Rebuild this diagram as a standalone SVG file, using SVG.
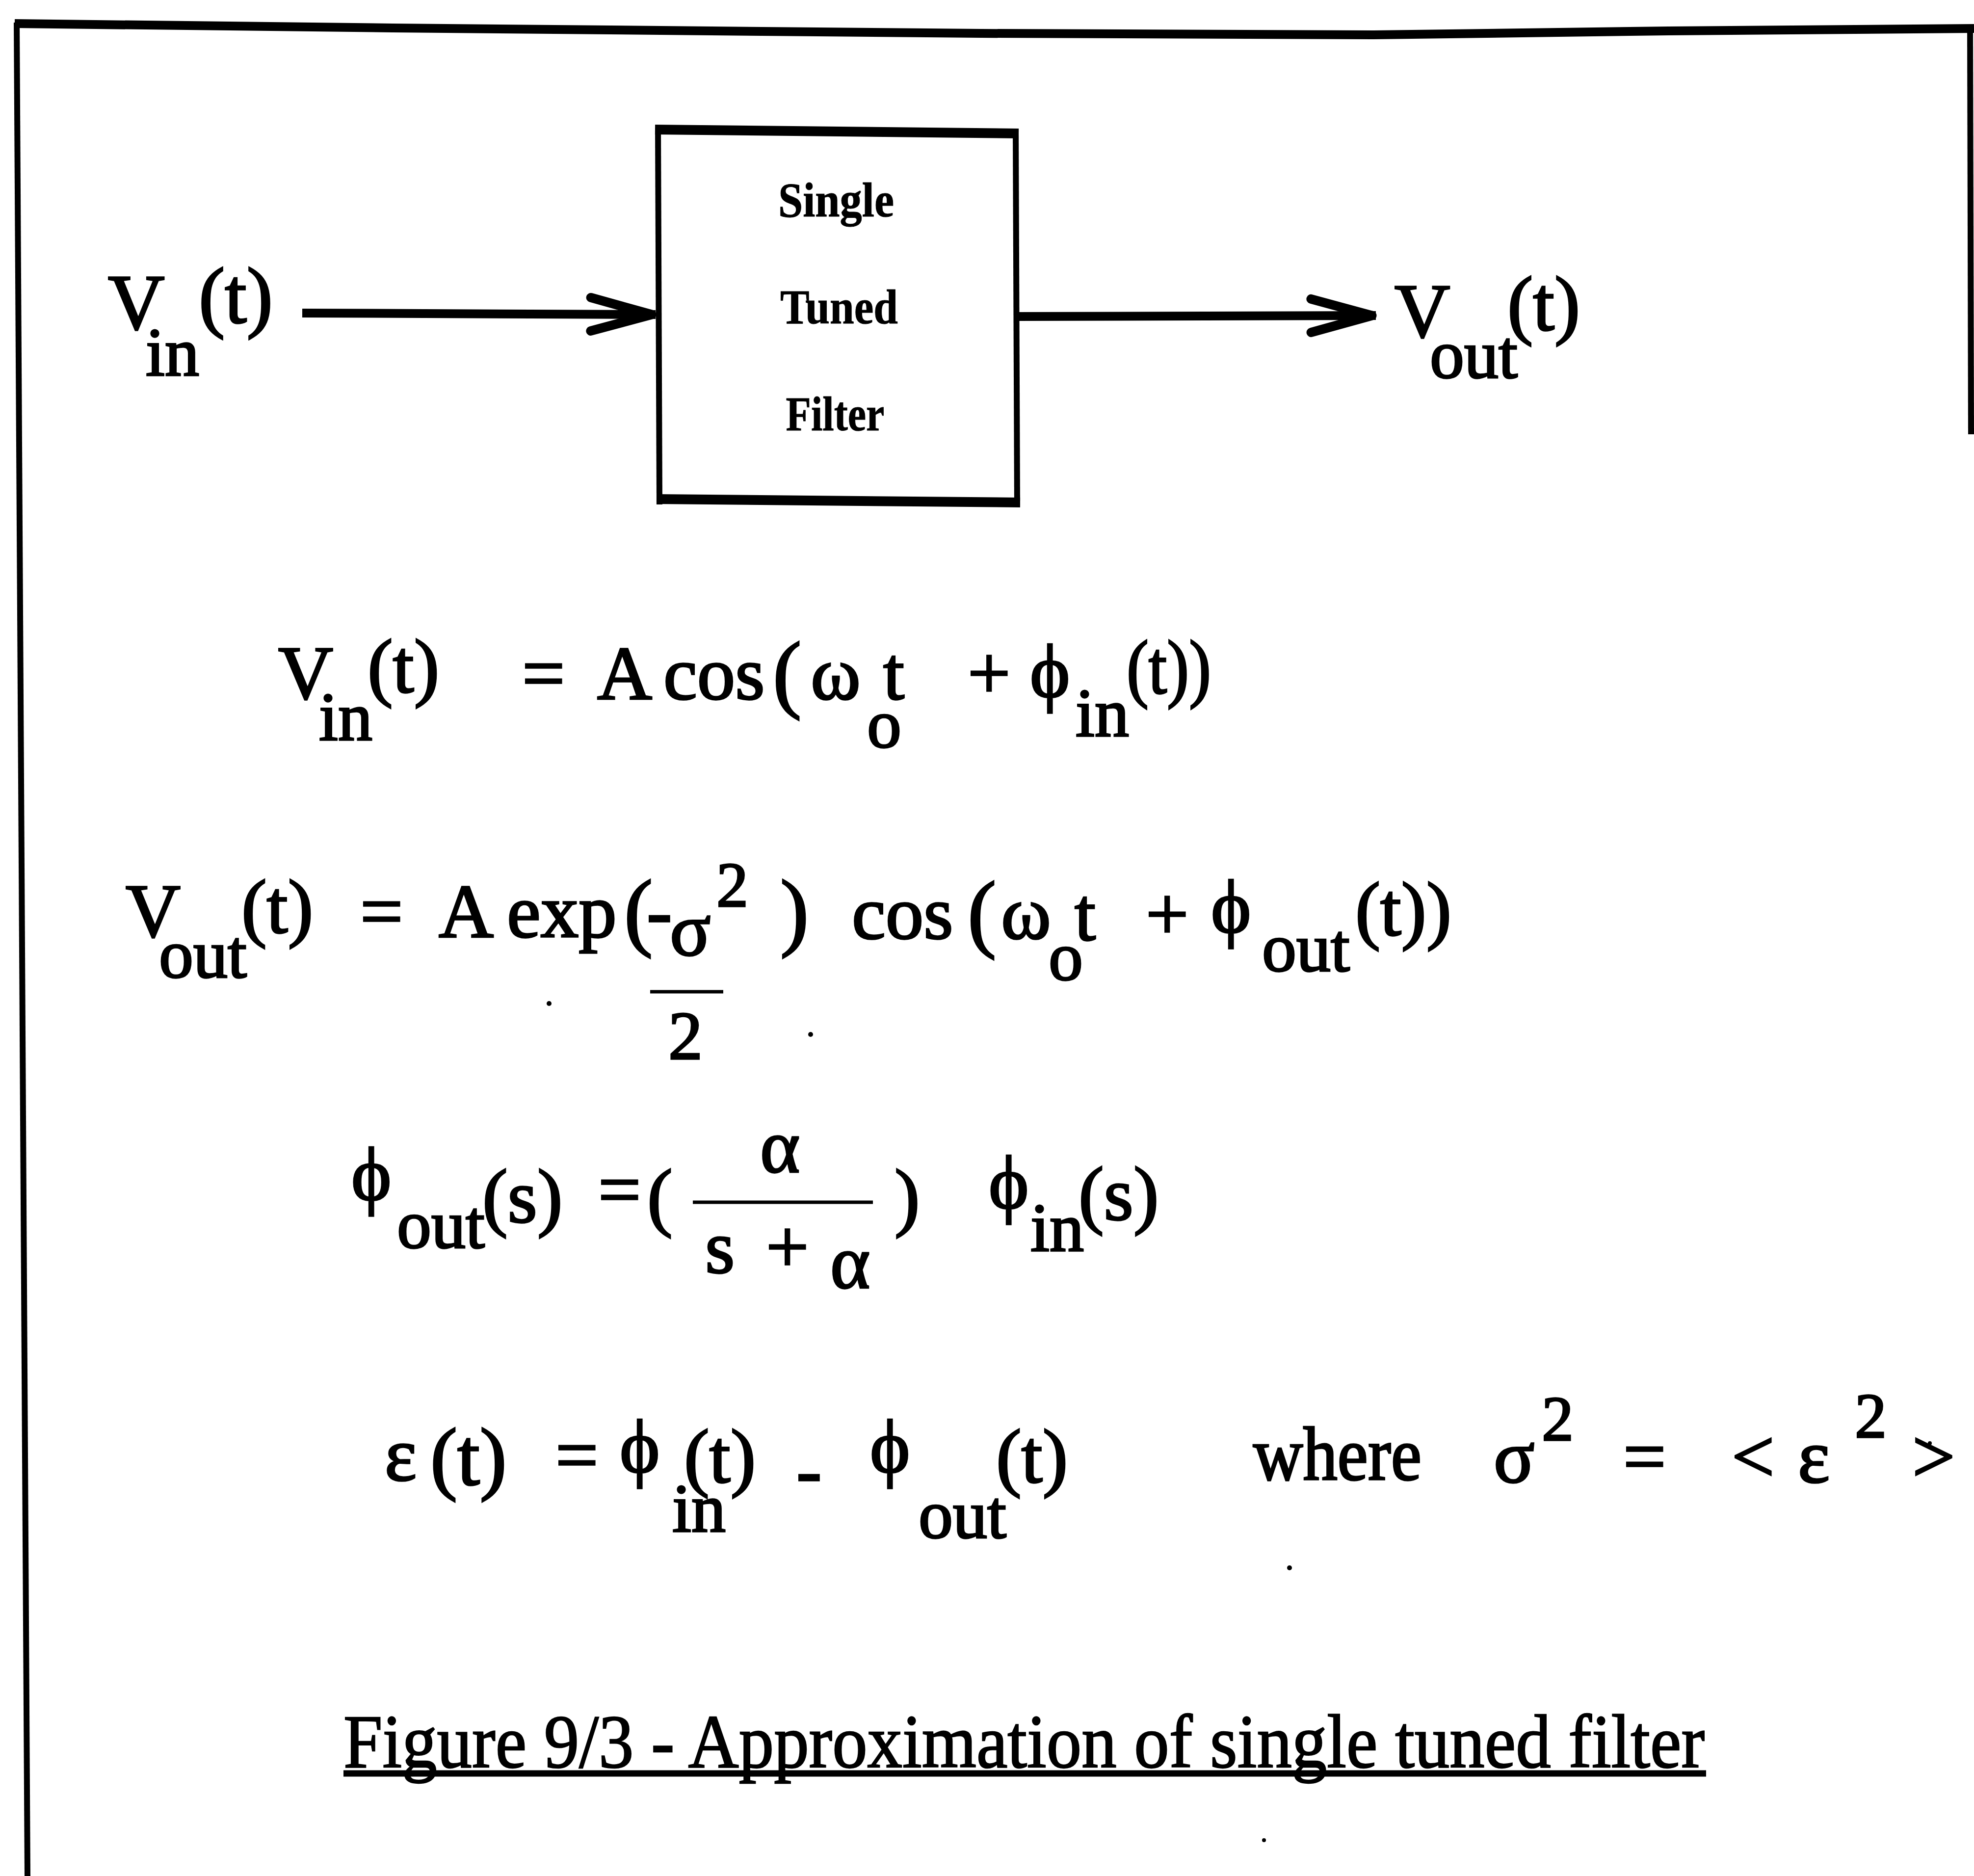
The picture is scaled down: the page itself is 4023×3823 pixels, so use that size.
<svg xmlns="http://www.w3.org/2000/svg" width="4023" height="3823" viewBox="0 0 4023 3823">
<style>
.t{font-family:"Liberation Serif","Times New Roman","DejaVu Serif",serif;fill:#000;stroke:#000;stroke-width:3.5}
.m{font-size:155px}
.s{font-size:140px}
.p{font-size:175px}
.sup{font-size:130px}
.bx{font-family:"Liberation Serif","Times New Roman",serif;font-weight:bold;font-size:100px;text-anchor:middle;fill:#000;stroke:#000;stroke-width:1}
.cap{font-family:"Liberation Serif","Times New Roman",serif;font-size:154px;fill:#000;stroke:#000;stroke-width:2.5}
.ln{stroke:#000;fill:none}
</style>
<defs>
<marker id="chev" markerUnits="userSpaceOnUse" viewBox="-150 -50 160 100" refX="0" refY="0" markerWidth="160" markerHeight="100" orient="auto">
<path d="M-132,-34 L-8,0 L-132,34" fill="none" stroke="#000" stroke-width="19" stroke-linejoin="round" stroke-linecap="round"/>
</marker>
</defs>
<rect width="4023" height="3823" fill="#fff"/>

<g id="border">
<polyline class="ln" stroke-width="18" points="30,48 800,57 2000,68 2800,71 3400,63 4023,58"/>
<line class="ln" stroke-width="12" x1="34" y1="46" x2="56" y2="3823"/>
<line class="ln" stroke-width="12" x1="4015" y1="55" x2="4017" y2="885"/>
</g>

<g id="node-filter">
<line class="ln" stroke-width="12" x1="1341" y1="262" x2="1344" y2="1028"/>
<line class="ln" stroke-width="12" x1="2070" y1="268" x2="2073" y2="1030"/>
<line class="ln" stroke-width="20" x1="1335" y1="264" x2="2076" y2="272"/>
<line class="ln" stroke-width="20" x1="1338" y1="1017" x2="2079" y2="1024"/>
<text class="bx" x="1704" y="441" textLength="236" lengthAdjust="spacingAndGlyphs">Single</text>
<text class="bx" x="1710" y="659" textLength="240" lengthAdjust="spacingAndGlyphs">Tuned</text>
<text class="bx" x="1702" y="877" textLength="201" lengthAdjust="spacingAndGlyphs">Filter</text>
</g>

<g id="label-vin">
<text class="t" font-size="160" x="220" y="671">V</text>
<text class="t s" x="297" y="765">in</text>
<text class="t" font-size="160" x="405" y="657">(t)</text>
</g>

<g id="label-vout">
<text class="t" font-size="157" x="2842" y="687">V</text>
<text class="t s" x="2914" y="770">out</text>
<text class="t" font-size="157" x="3072" y="672">(t)</text>
</g>

<g id="connectors">
<line class="ln" stroke-width="18" x1="616" y1="638" x2="1336" y2="641" marker-end="url(#chev)"/>
<line class="ln" stroke-width="18" x1="2074" y1="645" x2="2804" y2="643" marker-end="url(#chev)"/>
</g>

<g id="eq1">
<text class="t m" x="567" y="1424">V</text>
<text class="t s" x="650" y="1508">in</text>
<text class="t m" x="749" y="1410">(t)</text>
<text class="t m" x="1064" y="1424">=</text>
<text class="t m" x="1217" y="1424">A</text>
<text class="t m" x="1352" y="1424">cos</text>
<text class="t p" x="1575" y="1430">(</text>
<text class="t m" x="1652" y="1424">ω</text>
<text class="t s" x="1767" y="1523">o</text>
<text class="t m" x="1800" y="1424">t</text>
<text class="t m" x="1972" y="1424">+</text>
<text class="t m" x="2099" y="1420">ϕ</text>
<text class="t s" x="2192" y="1500">in</text>
<text class="t m" x="2296" y="1412" textLength="172" lengthAdjust="spacingAndGlyphs">(t))</text>
</g>

<g id="eq2">
<text class="t m" x="256" y="1909">V</text>
<text class="t s" x="324" y="1992">out</text>
<text class="t m" x="492" y="1900">(t)</text>
<text class="t m" x="734" y="1909">=</text>
<text class="t m" x="894" y="1909">A</text>
<text class="t m" x="1033" y="1909">exp</text>
<text class="t p" x="1272" y="1915">(</text>
<text class="t m" x="1318" y="1909">-</text>
<text class="t m" x="1365" y="1946">σ</text>
<text class="t sup" x="1460" y="1847">2</text>
<text class="t p" x="1590" y="1915">)</text>
<line class="ln" stroke-width="7" x1="1325" y1="2021" x2="1474" y2="2021"/>
<text class="t s" x="1362" y="2158">2</text>
<text class="t m" x="1736" y="1912">cos</text>
<text class="t p" x="1972" y="1918">(</text>
<text class="t m" x="2040" y="1912">ω</text>
<text class="t s" x="2137" y="1997">o</text>
<text class="t m" x="2190" y="1915">t</text>
<text class="t m" x="2335" y="1915">+</text>
<text class="t m" x="2468" y="1900">ϕ</text>
<text class="t s" x="2572" y="1979">out</text>
<text class="t m" x="2762" y="1905" textLength="196" lengthAdjust="spacingAndGlyphs">(t))</text>
</g>

<g id="eq3">
<text class="t m" x="716" y="2445">ϕ</text>
<text class="t s" x="809" y="2543">out</text>
<text class="t m" x="983" y="2490">(s)</text>
<text class="t m" x="1219" y="2476">=</text>
<text class="t m" x="1319" y="2490">(</text>
<text class="t m" x="1549" y="2388">α</text>
<line class="ln" stroke-width="7" x1="1412" y1="2450" x2="1779" y2="2450"/>
<text class="t m" x="1437" y="2593">s</text>
<text class="t m" x="1561" y="2593">+</text>
<text class="t m" x="1692" y="2624">α</text>
<text class="t m" x="1823" y="2490">)</text>
<text class="t m" x="2015" y="2462">ϕ</text>
<text class="t s" x="2100" y="2549">in</text>
<text class="t m" x="2198" y="2485">(s)</text>
</g>

<g id="eq4">
<text class="t m" x="784" y="3016">ε</text>
<text class="t" font-size="165" x="877" y="3025">(t)</text>
<text class="t m" x="1132" y="3017">=</text>
<text class="t m" x="1263" y="3000">ϕ</text>
<text class="t s" x="1370" y="3121">in</text>
<text class="t m" x="1394" y="3020">(t)</text>
<text class="t m" x="1623" y="3048">-</text>
<text class="t m" x="1773" y="3000">ϕ</text>
<text class="t s" x="1872" y="3134">out</text>
<text class="t m" x="2030" y="3020">(t)</text>
<text class="t m" x="2554" y="3015" textLength="343" lengthAdjust="spacingAndGlyphs">where</text>
<text class="t m" x="3044" y="3020">σ</text>
<text class="t sup" x="3142" y="2935">2</text>
<text class="t m" x="3308" y="3020">=</text>
<text class="t m" x="3529" y="3020">&lt;</text>
<text class="t m" x="3664" y="3020">ε</text>
<text class="t sup" x="3780" y="2929">2</text>
<text class="t m" x="3897" y="3020">&gt;</text>
</g>

<g id="specks" fill="#000">
<circle cx="1119" cy="2045" r="5"/>
<circle cx="1652" cy="2108" r="5"/>
<circle cx="3933" cy="2941" r="4"/>
<circle cx="2628" cy="3195" r="5"/>
<circle cx="2576" cy="3750" r="4"/>
</g>

<g id="caption">
<text class="cap" x="700" y="3601" textLength="2774" lengthAdjust="spacingAndGlyphs">Figure 9/3 - Approximation of single tuned filter</text>
<line class="ln" stroke-width="13" x1="700" y1="3614" x2="3477" y2="3614"/>
</g>
</svg>
